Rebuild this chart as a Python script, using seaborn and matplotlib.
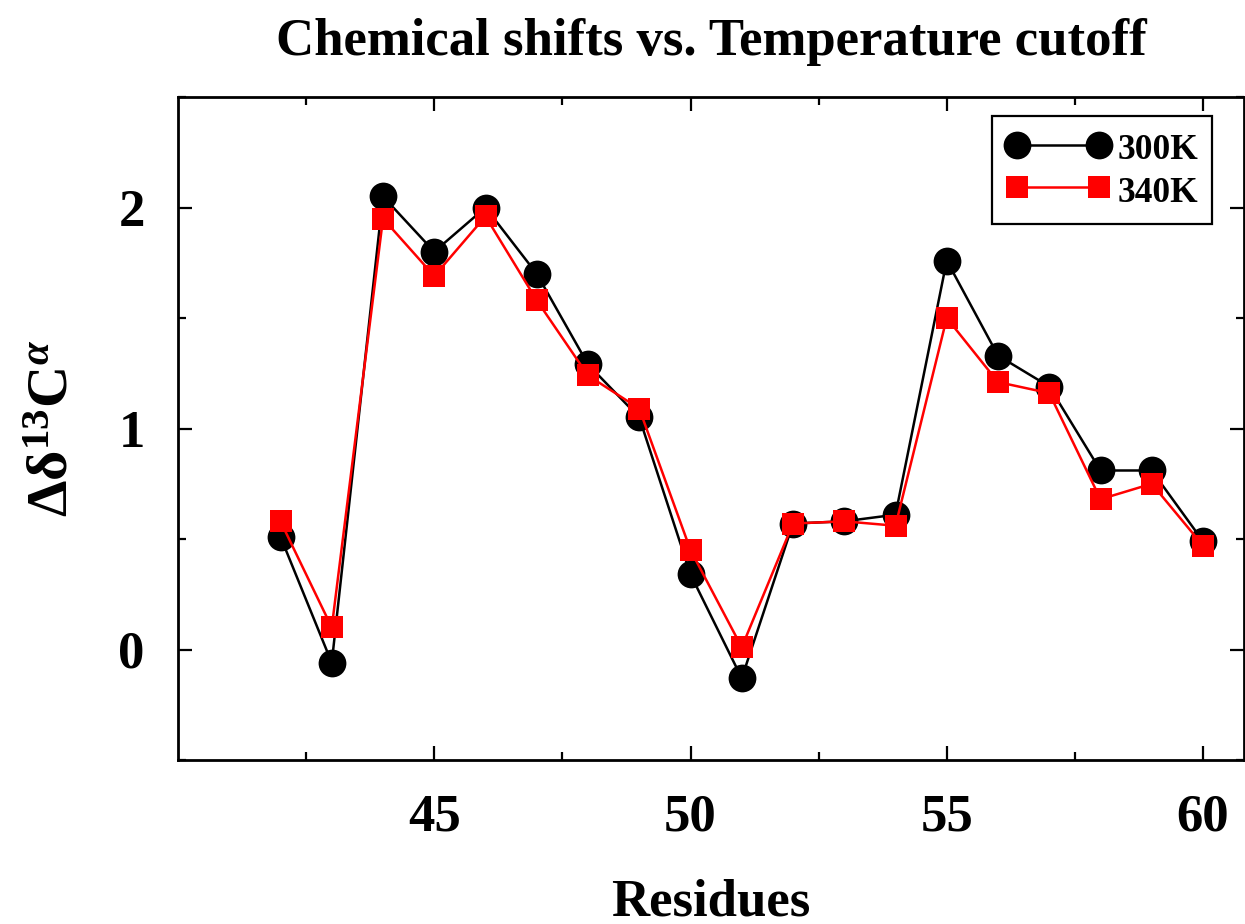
import numpy as np
import pandas as pd
import seaborn as sns
from matplotlib import pyplot as plt
import matplotlib.ticker as ticker

residues = list(range(42, 61))
shift_300k = [0.51, -0.06, 2.05, 1.80, 2.00, 1.70, 1.29, 1.05, 0.34, -0.13,
              0.57, 0.58, 0.61, 1.76, 1.33, 1.19, 0.81, 0.81, 0.49]
shift_340k = [0.58, 0.10, 1.95, 1.69, 1.96, 1.58, 1.24, 1.09, 0.45, 0.01,
              0.57, 0.58, 0.56, 1.50, 1.21, 1.16, 0.68, 0.75, 0.47]
x_ticks = [45, 50, 55, 60]

df_300 = pd.DataFrame({"Residue": residues, "Shift": shift_300k})
df_340 = pd.DataFrame({"Residue": residues, "Shift": shift_340k})

sns.set_theme(style="ticks")
plt.rcParams["font.family"] = ["Liberation Serif", "DejaVu Serif"]
plt.rcParams["font.weight"] = "bold"
plt.rcParams["text.color"] = "black"
plt.rcParams["axes.labelcolor"] = "black"
plt.rcParams["xtick.color"] = "black"
plt.rcParams["ytick.color"] = "black"
plt.rcParams["mathtext.fontset"] = "custom"
plt.rcParams["mathtext.rm"] = "Liberation Serif:bold"
plt.rcParams["mathtext.it"] = "Liberation Serif:italic:bold"
plt.rcParams["mathtext.bf"] = "Liberation Serif:bold"

fig = plt.figure(figsize=(12.45, 9.24), dpi=100)
ax = fig.add_axes([178 / 1245, 1 - 760 / 924, (1244 - 178) / 1245, (760 - 97) / 924])

sns.lineplot(data=df_300, x="Residue", y="Shift", ax=ax, color="black",
             marker="o", markersize=20, markeredgecolor="black",
             markeredgewidth=0, linewidth=1.8, label="300K")
sns.lineplot(data=df_340, x="Residue", y="Shift", ax=ax, color="red",
             marker="s", markersize=16.5, markeredgecolor="red",
             markeredgewidth=0, linewidth=1.8, label="340K")

ax.set_xlim(40, 60.8)
ax.set_ylim(-0.5, 2.5)
ax.xaxis.set_major_locator(ticker.FixedLocator(x_ticks))
ax.xaxis.set_minor_locator(ticker.FixedLocator([42.5, 47.5, 52.5, 57.5]))
ax.yaxis.set_major_locator(ticker.MultipleLocator(1))
ax.yaxis.set_minor_locator(ticker.MultipleLocator(0.5))

ax.tick_params(which="both", direction="in", top=True, right=True, width=1.6,
               color="black")
ax.tick_params(which="major", length=10, labelsize=38, pad=24)
ax.tick_params(which="minor", length=5.5)
for lab in ax.get_xticklabels() + ax.get_yticklabels():
    lab.set_fontweight("bold")
for sp in ax.spines.values():
    sp.set_linewidth(2)
    sp.set_color("black")

ax.set_xlabel("Residues", fontsize=38, fontweight="bold", labelpad=27)
ax.set_ylabel(r"Δδ$^{13}$C$^{\alpha}$", fontsize=42, fontweight="bold",
              labelpad=28)
ax.set_title("Chemical shifts vs. Temperature cutoff", fontsize=38,
             fontweight="bold", pad=30)

leg = ax.legend(loc="upper right", bbox_to_anchor=(0.970, 0.971),
                borderaxespad=0, numpoints=2, handlelength=2.9,
                handleheight=1.1, handletextpad=0.22, labelspacing=0.15,
                borderpad=0.4, fancybox=False, edgecolor="black",
                framealpha=1,
                prop={"family": "Liberation Serif", "weight": "bold", "size": 25.5})
leg.get_frame().set_linewidth(1.6)

fig.savefig("out.png", dpi=100)
